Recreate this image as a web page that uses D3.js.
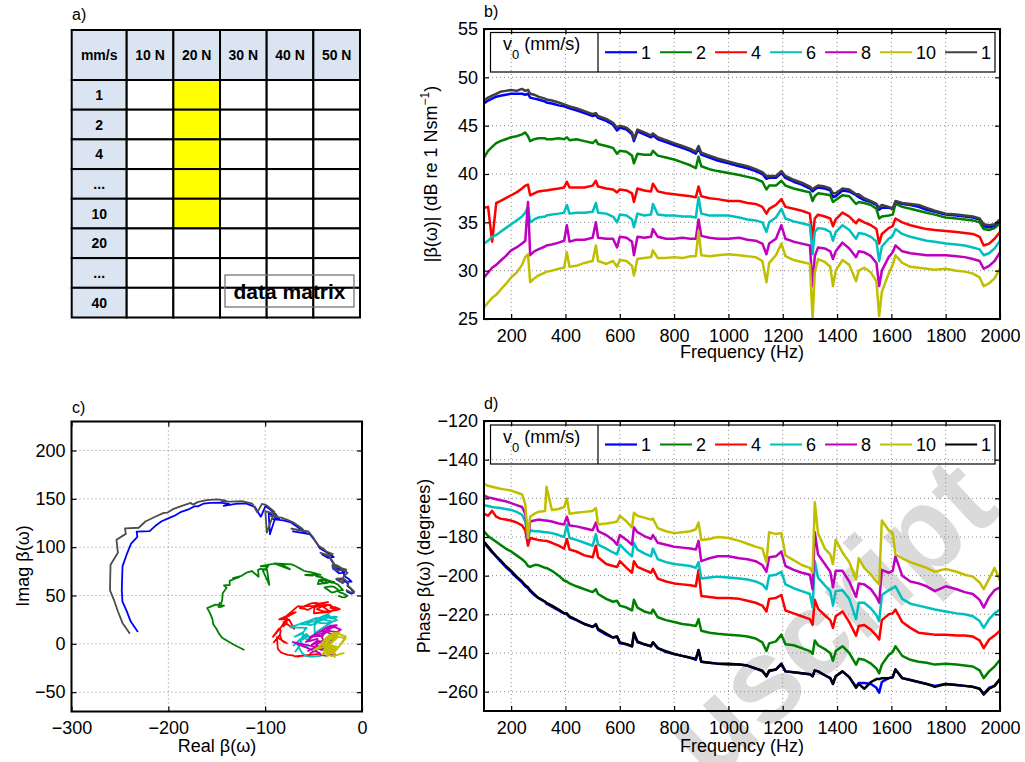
<!DOCTYPE html>
<html><head><meta charset="utf-8">
<script src="https://cdn.jsdelivr.net/npm/d3@7"></script>
<style>body{margin:0;background:#fff}text{font-family:"Liberation Sans",Arial,Helvetica,sans-serif}</style>
</head><body><svg id="c" width="1025" height="762"></svg>
<script>
// ---------- data ----------
const tableCols = ["mm/s","10 N","20 N","30 N","40 N","50 N"];
const tableRows = ["1","2","4","...","10","20","...","40"];
const highlightCol = "20 N";
const highlightRows = [0,1,2,3,4];

const speeds = ["1","2","4","6","8","10","1"];
const colorsB = ["#0000ff","#008000","#ff0000","#00bfbf","#bf00bf","#bfbf00","#404040"];
const colorsD = ["#0000ff","#008000","#ff0000","#00bfbf","#bf00bf","#bfbf00","#000000"];
const colorsC = ["#0000ff","#008000","#ff0000","#00bfbf","#bf00bf","#bfbf00","#4d4d4d"];

const freqTicks = [200,400,600,800,1000,1200,1400,1600,1800,2000];
const magTicks = [25,30,35,40,45,50,55];
const phaseTicks = [-260,-240,-220,-200,-180,-160,-140,-120];
const realTicks = [-300,-200,-100,0];
const imagTicks = [-50,0,50,100,150,200];

const freq = [100,115,130,145,160,180,200,220,240,252,
 262,270,285,300,325,330,350,375,395,405,
 415,440,470,500,512,520,550,575,590,600,
 625,645,652,665,690,715,722,740,770,800,
 830,860,880,890,900,930,960,1000,1040,1070,
 1100,1125,1140,1150,1175,1195,1210,1240,1270,1300,
 1310,1318,1330,1355,1375,1385,1395,1420,1445,1470,
 1480,1500,1525,1545,1555,1565,1590,1605,1615,1640,
 1670,1700,1730,1760,1800,1840,1870,1900,1925,1940,
 1960,1980,2000];

// magnitude |beta| (dB re 1 Nsm^-1)
const magV1 = [47.3,47.6,47.8,48.0,48.1,48.2,48.3,48.3,48.3,48.2,
 48.3,47.9,47.8,47.7,47.5,47.4,47.3,47.1,47.0,46.9,
 46.8,46.6,46.3,46.0,46.1,45.8,45.5,45.1,44.5,44.8,
 44.6,44.1,43.4,44.4,44.1,43.8,44.0,43.6,43.3,43.0,
 42.7,42.4,42.1,42.7,42.0,41.7,41.4,41.1,40.8,40.6,
 40.3,40.0,39.5,39.6,39.6,40.1,39.6,39.2,38.9,38.5,
 38.2,38.4,38.6,38.5,38.3,37.6,37.7,38.3,38.2,37.8,
 37.6,37.3,37.1,36.8,36.3,36.5,36.5,36.4,37.1,36.9,
 36.8,36.6,36.3,36.1,35.8,35.7,35.6,35.5,35.3,34.6,
 34.5,34.6,35.1];
const magV2 = [41.7,42.4,42.8,43.2,43.4,43.6,43.8,43.9,44.1,44.3,
 43.9,43.4,43.6,43.7,43.7,43.6,43.6,43.7,43.6,43.8,
 43.5,43.6,43.4,43.2,43.5,43.1,42.9,42.7,42.1,42.4,
 42.3,41.9,41.1,42.1,42.0,42.0,42.4,41.9,41.7,41.5,
 41.2,40.9,40.6,41.8,40.8,40.5,40.3,40.1,39.9,39.7,
 39.5,39.2,38.4,38.8,38.8,39.3,38.8,38.5,38.3,38.1,
 37.2,37.7,38.0,37.9,37.8,37.1,37.3,37.8,37.7,36.9,
 37.1,37.0,36.8,36.4,35.4,35.6,35.7,35.8,36.9,36.6,
 36.4,36.2,36.0,35.8,35.5,35.4,35.3,35.2,35.0,34.3,
 34.2,34.4,34.9];
const magV4 = [36.5,36.6,33.0,37.0,37.2,37.5,37.8,38.1,38.5,38.8,
 38.9,37.8,38.0,38.2,38.3,38.3,38.4,38.5,38.6,39.2,
 38.6,38.6,38.6,38.8,39.3,38.7,38.5,38.4,38.1,38.4,
 38.3,38.0,37.1,38.5,38.3,38.2,39.0,38.2,38.0,37.9,
 37.8,37.7,37.6,38.7,37.7,37.5,37.4,37.2,37.2,37.0,
 36.9,36.6,35.9,36.4,36.8,37.4,36.6,36.4,36.2,35.9,
 33.3,35.4,35.8,35.6,35.4,34.6,35.3,36.0,35.6,34.9,
 35.3,35.0,34.7,34.3,32.8,33.8,34.4,34.6,35.4,35.0,
 34.7,34.5,34.3,34.2,34.1,34.0,33.9,33.8,33.5,32.6,
 32.8,33.3,34.0];
const magV6 = [32.8,33.1,33.5,33.7,34.0,34.4,34.8,35.2,35.6,36.0,
 36.6,35.0,35.3,35.5,35.6,35.7,35.8,35.9,36.0,36.8,
 35.9,36.0,36.0,36.1,37.0,36.0,35.9,35.6,35.0,35.8,
 35.7,35.3,34.5,35.9,35.7,35.8,36.9,35.8,35.7,35.7,
 35.6,35.6,35.5,37.6,35.9,35.7,35.7,35.7,35.5,35.3,
 35.2,35.0,34.0,35.0,35.5,36.4,35.4,35.1,34.9,34.7,
 31.7,34.0,34.4,34.3,34.0,33.1,34.0,34.7,34.2,33.3,
 33.9,33.8,33.5,33.0,31.0,32.5,33.3,33.6,34.3,33.8,
 33.5,33.3,33.1,33.0,32.8,32.7,32.6,32.4,32.2,31.6,
 31.8,32.3,33.1];
const magV8 = [29.3,29.8,30.3,30.6,31.0,31.5,32.1,32.4,32.8,33.1,
 37.1,31.6,32.0,32.2,32.5,32.6,32.7,32.9,33.1,34.7,
 33.0,33.2,33.2,33.4,35.0,33.4,33.3,33.3,32.4,33.5,
 33.4,33.0,31.6,33.5,33.4,33.5,34.3,33.5,33.3,33.3,
 33.4,33.3,33.3,35.3,33.6,33.4,33.3,33.3,33.4,33.2,
 33.1,32.8,31.7,32.8,33.3,34.7,33.3,33.0,32.8,32.6,
 28.4,31.5,32.4,32.3,32.0,31.2,32.0,32.9,32.3,31.4,
 32.0,31.9,31.5,30.8,28.4,30.0,31.4,31.9,32.6,32.0,
 31.8,31.7,31.6,31.6,31.6,31.5,31.4,31.2,31.0,30.2,
 30.5,31.0,31.9];
const magV10 = [26.2,26.7,27.2,27.5,28.0,28.6,29.3,29.8,30.6,31.4,
 31.7,28.8,29.2,29.5,29.8,29.9,30.0,30.2,30.3,31.9,
 30.4,30.5,30.8,31.0,32.6,31.0,30.7,31.0,30.4,31.1,
 31.0,30.5,29.5,31.2,31.3,31.4,32.1,31.3,31.3,31.4,
 31.3,31.5,31.5,34.1,31.6,31.5,31.6,31.7,31.6,31.5,
 31.4,31.0,28.8,30.8,31.6,32.8,31.5,31.1,30.9,30.7,
 25.0,29.8,31.2,30.9,30.4,28.4,30.0,31.1,30.6,28.9,
 30.0,30.3,29.8,28.9,25.3,27.8,29.7,30.6,31.6,30.8,
 30.4,30.3,30.2,30.1,30.2,30.0,29.9,29.7,29.3,28.4,
 28.7,29.2,30.2];
const magV1b = [47.6,47.9,48.1,48.3,48.5,48.6,48.7,48.6,48.8,48.6,
 48.7,48.3,48.2,48.0,47.8,47.7,47.6,47.4,47.2,47.1,
 47.0,46.8,46.5,46.2,46.3,46.0,45.7,45.3,44.8,45.0,
 44.8,44.3,43.6,44.6,44.3,44.0,44.2,43.8,43.5,43.2,
 42.9,42.6,42.3,42.9,42.2,41.9,41.6,41.3,41.0,40.8,
 40.5,40.2,39.8,39.8,39.8,40.3,39.8,39.4,39.1,38.7,
 38.4,38.6,38.8,38.7,38.5,38.0,38.0,38.5,38.4,37.9,
 37.9,37.5,37.2,36.9,36.5,36.8,36.6,36.4,37.2,37.0,
 36.9,36.8,36.5,36.2,35.9,35.8,35.7,35.6,35.4,34.8,
 34.7,34.8,35.3];

// phase of beta (degrees)
const phV1 = [-183.0,-185.5,-188.0,-190.0,-192.5,-195.5,-198.0,-201.0,-203.5,-205.5,
 -206.5,-208.0,-210.0,-211.5,-213.5,-214.5,-216.0,-218.0,-219.5,-220.0,
 -221.5,-223.0,-225.0,-226.5,-225.0,-228.0,-230.5,-232.0,-231.5,-235.0,
 -235.5,-236.5,-230.0,-234.5,-235.5,-236.5,-234.5,-237.5,-239.5,-240.5,
 -241.5,-242.5,-243.5,-238.5,-244.5,-245.0,-245.5,-246.0,-246.0,-246.5,
 -248.0,-249.5,-252.0,-249.5,-248.5,-246.0,-249.5,-250.0,-250.5,-251.0,
 -252.0,-249.0,-249.5,-251.5,-253.0,-256.0,-252.0,-249.5,-252.5,-257.5,
 -255.5,-255.5,-256.0,-258.0,-260.5,-255.0,-253.0,-252.5,-248.5,-253.0,
 -254.0,-255.0,-256.0,-257.0,-256.0,-256.5,-257.0,-257.5,-258.5,-261.0,
 -258.0,-257.0,-253.5];
const phV2 = [-177.0,-179.5,-181.0,-182.5,-184.0,-186.0,-187.5,-189.5,-191.5,-193.0,
 -195.0,-195.5,-194.5,-194.5,-196.0,-196.0,-197.5,-200.0,-202.5,-203.0,
 -204.0,-205.5,-207.0,-208.5,-207.0,-209.5,-212.0,-213.5,-213.0,-215.5,
 -216.5,-218.0,-212.5,-216.5,-218.5,-219.5,-217.5,-221.5,-223.0,-224.0,
 -225.0,-225.5,-226.0,-222.5,-228.5,-229.5,-230.0,-230.5,-231.0,-231.5,
 -232.5,-234.5,-239.0,-235.0,-234.0,-230.5,-235.5,-236.0,-237.5,-239.0,
 -240.5,-233.5,-236.0,-238.0,-240.0,-244.0,-239.0,-236.5,-240.0,-246.0,
 -243.0,-243.5,-245.5,-248.0,-250.5,-246.0,-241.0,-239.5,-236.5,-241.5,
 -243.5,-244.5,-245.0,-246.0,-245.5,-246.0,-246.5,-247.0,-249.0,-253.0,
 -249.5,-247.0,-243.5];
const phV4 = [-168.0,-169.0,-166.5,-169.5,-170.5,-171.0,-171.5,-172.5,-174.0,-176.5,
 -184.5,-180.5,-181.0,-181.5,-182.0,-182.0,-183.0,-184.5,-186.0,-181.0,
 -186.5,-187.5,-189.5,-190.5,-184.5,-190.5,-194.0,-195.0,-195.5,-192.5,
 -196.0,-198.5,-192.5,-195.5,-197.0,-198.5,-196.5,-201.5,-203.0,-204.0,
 -204.5,-205.0,-205.5,-197.0,-210.5,-211.0,-211.5,-211.5,-212.0,-213.0,
 -214.0,-215.5,-218.5,-212.0,-211.5,-210.0,-218.0,-219.5,-221.0,-222.5,
 -225.5,-212.5,-217.0,-220.5,-223.0,-227.0,-221.0,-218.5,-224.0,-231.0,
 -226.0,-225.5,-228.0,-231.0,-233.0,-223.0,-220.0,-219.5,-217.5,-224.0,
 -227.0,-229.5,-230.0,-230.5,-230.5,-231.0,-231.0,-231.5,-233.5,-237.5,
 -233.0,-231.0,-228.5];
const phV6 = [-163.5,-164.0,-164.5,-164.8,-165.0,-165.5,-166.0,-167.0,-168.5,-172.0,
 -181.0,-176.5,-177.0,-177.0,-177.5,-177.5,-178.0,-179.0,-180.0,-173.5,
 -180.5,-181.5,-183.0,-184.5,-178.5,-184.0,-186.0,-188.0,-189.0,-184.0,
 -187.5,-190.0,-183.0,-186.5,-188.5,-190.0,-186.0,-191.5,-193.0,-194.0,
 -194.5,-195.0,-196.0,-193.0,-201.5,-201.0,-200.5,-201.0,-201.5,-202.0,
 -203.0,-204.5,-207.0,-200.0,-199.5,-198.0,-204.5,-206.5,-208.0,-209.5,
 -216.5,-192.5,-201.0,-205.0,-208.0,-215.5,-208.0,-207.5,-212.0,-222.5,
 -214.0,-214.0,-217.0,-220.5,-223.5,-210.0,-207.5,-206.5,-205.5,-212.0,
 -214.5,-215.5,-216.5,-217.5,-218.5,-219.5,-220.0,-221.0,-223.5,-227.0,
 -222.5,-219.5,-217.5];
const phV8 = [-158.5,-159.5,-160.0,-160.5,-161.0,-161.5,-162.5,-163.5,-164.5,-168.0,
 -181.5,-172.0,-171.5,-171.0,-171.5,-171.5,-172.0,-173.0,-173.5,-169.5,
 -174.0,-174.5,-175.5,-176.5,-172.5,-177.0,-179.0,-181.5,-184.0,-179.0,
 -181.5,-184.0,-175.0,-177.5,-179.5,-181.0,-179.0,-183.0,-184.0,-185.0,
 -185.5,-186.0,-186.5,-182.0,-192.5,-191.0,-190.0,-190.0,-191.0,-191.5,
 -192.5,-194.5,-198.0,-190.5,-190.0,-187.5,-195.0,-197.0,-198.5,-199.5,
 -207.0,-177.5,-189.0,-194.0,-198.0,-206.0,-197.5,-197.5,-203.0,-211.0,
 -204.0,-204.5,-207.0,-211.0,-214.0,-197.0,-198.5,-197.5,-190.0,-200.0,
 -203.0,-204.0,-205.5,-208.0,-205.5,-207.0,-208.5,-209.5,-212.5,-216.5,
 -211.0,-207.5,-206.0];
const phV10 = [-152.5,-153.5,-154.0,-154.5,-155.0,-155.5,-156.0,-157.0,-158.0,-163.0,
 -180.5,-169.5,-168.0,-167.0,-166.5,-154.0,-166.0,-165.5,-164.5,-160.0,
 -168.0,-167.5,-167.0,-166.5,-165.0,-173.5,-173.0,-172.5,-172.0,-169.0,
 -172.0,-175.0,-167.5,-169.0,-170.0,-171.0,-170.5,-175.5,-177.0,-178.0,
 -177.5,-177.0,-176.0,-172.5,-181.5,-181.0,-180.0,-180.5,-182.0,-183.5,
 -185.0,-186.0,-193.0,-177.5,-178.5,-178.0,-189.5,-192.0,-194.5,-196.0,
 -198.5,-162.0,-178.0,-186.0,-189.0,-194.0,-181.5,-188.0,-193.0,-202.0,
 -191.0,-196.0,-199.5,-203.0,-204.5,-171.5,-176.5,-178.0,-189.0,-191.0,
 -193.0,-194.5,-196.0,-198.0,-196.5,-198.0,-199.5,-200.5,-203.5,-207.0,
 -201.5,-196.0,-202.5];
const phV1b = [-182.5,-185.0,-187.5,-190.0,-192.0,-195.0,-197.5,-200.5,-203.0,-205.0,
 -206.0,-207.5,-209.5,-211.5,-213.5,-214.0,-215.5,-217.5,-219.5,-219.5,
 -221.0,-222.8,-225.0,-226.5,-225.5,-227.5,-230.0,-232.0,-231.5,-234.5,
 -235.5,-236.5,-229.5,-234.0,-235.5,-236.5,-234.5,-237.5,-239.0,-240.5,
 -241.5,-242.5,-243.0,-238.5,-244.5,-245.0,-245.5,-245.5,-246.0,-246.5,
 -248.0,-249.0,-252.0,-249.0,-248.5,-245.5,-249.5,-250.0,-250.5,-251.0,
 -252.0,-249.0,-249.5,-251.5,-253.0,-256.0,-252.0,-249.5,-252.5,-258.0,
 -256.0,-258.5,-255.0,-253.5,-253.5,-253.0,-253.0,-252.5,-248.5,-253.0,
 -254.0,-255.0,-256.0,-257.5,-256.0,-256.5,-257.0,-257.5,-258.5,-261.5,
 -258.5,-257.0,-253.5];

const magSeries = [magV1,magV2,magV4,magV6,magV8,magV10,magV1b];
const phaseSeries = [phV1,phV2,phV4,phV6,phV8,phV10,phV1b];

// ---------- drawing ----------
const svg = d3.select("#c");
const FS = 18;

// watermark (behind everything)
svg.append("text")
  .attr("transform","translate(1003,512) rotate(-43)")
  .attr("text-anchor","end").attr("font-size",120).attr("font-weight","bold")
  .attr("fill","#dadada").text("uscript");

const xF = d3.scaleLinear().domain([100,2000]).range([484,1000]);
const yMag = d3.scaleLinear().domain([25,55]).range([319,29]);
const yPh = d3.scaleLinear().domain([-270,-120]).range([711,421]);
const xRe = d3.scaleLinear().domain([-300,0]).range([71.5,362]);
const yIm = d3.scaleLinear().domain([-70,230]).range([711.5,421.5]);
const fmt = d3.format("d");

let clipN = 0;
function panel(x, y, xt, yt, drawLines) {
  const [xa,xb] = x.range(), [ya,yb] = y.range();
  const g = svg.append("g");
  g.selectAll(null).data(xt.filter(t => x(t) > xa+1 && x(t) < xb-1)).join("line")
    .attr("x1",d=>x(d)).attr("x2",d=>x(d)).attr("y1",ya).attr("y2",yb)
    .attr("stroke","#8a8a8a").attr("stroke-width",1).attr("stroke-dasharray","1,3");
  g.selectAll(null).data(yt.filter(t => y(t) < ya-1 && y(t) > yb+1)).join("line")
    .attr("y1",d=>y(d)).attr("y2",d=>y(d)).attr("x1",xa).attr("x2",xb)
    .attr("stroke","#8a8a8a").attr("stroke-width",1).attr("stroke-dasharray","1,3");
  const id = "clip" + (clipN++);
  svg.append("clipPath").attr("id",id).append("rect")
    .attr("x",xa).attr("y",yb).attr("width",xb-xa).attr("height",ya-yb);
  const lg = svg.append("g").attr("clip-path",`url(#${id})`);
  drawLines(lg);
  const ax = svg.append("g");
  ax.append("g").attr("transform",`translate(0,${ya})`)
    .call(d3.axisBottom(x).tickValues(xt).tickFormat(fmt).tickSizeInner(-5).tickSizeOuter(0).tickPadding(10));
  ax.append("g").attr("transform",`translate(${xa},0)`)
    .call(d3.axisLeft(y).tickValues(yt).tickFormat(fmt).tickSizeInner(-5).tickSizeOuter(0).tickPadding(6));
  ax.append("g").attr("transform",`translate(0,${yb})`)
    .call(d3.axisTop(x).tickValues(xt).tickSizeInner(-5).tickSizeOuter(0).tickFormat(""));
  ax.append("g").attr("transform",`translate(${xb},0)`)
    .call(d3.axisRight(y).tickValues(yt).tickSizeInner(-5).tickSizeOuter(0).tickFormat(""));
  ax.selectAll(".domain").remove();
  ax.selectAll(".tick line").attr("stroke","#000").attr("stroke-width",1.2);
  ax.selectAll(".tick text").attr("font-size",FS).attr("fill","#000")
    .attr("font-family","'Liberation Sans',Arial,sans-serif");
  ax.append("rect").attr("x",xa).attr("y",yb).attr("width",xb-xa).attr("height",ya-yb)
    .attr("fill","none").attr("stroke","#000").attr("stroke-width",2);
}

function freqLines(yScale, data, colors, width) {
  return g => {
    data.forEach((vals, i) => {
      const pts = freq.map((f,k) => [f, vals[k]]);
      g.append("path").datum(pts)
        .attr("d", d3.line().x(d=>xF(d[0])).y(d=>yScale(d[1])))
        .attr("fill","none").attr("stroke",colors[i]).attr("stroke-width",width)
        .attr("stroke-linejoin","round");
    });
  };
}

panel(xF, yMag, freqTicks, magTicks, freqLines(yMag, magSeries, colorsB, 2.5));
panel(xF, yPh, freqTicks, phaseTicks, freqLines(yPh, phaseSeries, colorsD, 2.5));
// panel c : complex plane, built from the magnitude and phase readings above
panel(xRe, yIm, realTicks, imagTicks, g => {
  magSeries.forEach((mags, i) => {
    const phs = phaseSeries[i];
    const pts = mags.map((m,k) => {
      const a = Math.pow(10, m/20), p = phs[k]*Math.PI/180;
      return [a*Math.cos(p), a*Math.sin(p)];
    });
    g.append("path").datum(pts)
      .attr("d", d3.line().x(d=>xRe(d[0])).y(d=>yIm(d[1])))
      .attr("fill","none").attr("stroke",colorsC[i]).attr("stroke-width",1.8)
      .attr("stroke-linejoin","round");
  });
});

function legend(top, bottom, colors) {
  const g = svg.append("g");
  const cy = (top+bottom)/2;
  g.append("rect").attr("x",490.5).attr("y",top).attr("width",504.5).attr("height",bottom-top)
    .attr("fill","none").attr("stroke","#000").attr("stroke-width",1.2);
  g.append("line").attr("x1",598).attr("x2",598).attr("y1",top).attr("y2",bottom)
    .attr("stroke","#000").attr("stroke-width",1.2);
  const t = g.append("text").attr("x",503).attr("y",cy-2).attr("font-size",FS);
  t.append("tspan").text("v");
  t.append("tspan").attr("font-size",13).attr("dy",9).text("0");
  t.append("tspan").attr("dy",-9).text(" (mm/s)");
  let x = 605;
  speeds.forEach((s,i) => {
    g.append("line").attr("x1",x).attr("x2",x+32).attr("y1",cy).attr("y2",cy)
      .attr("stroke",colors[i]).attr("stroke-width",2.2);
    const tx = g.append("text").attr("x",x+36).attr("y",cy+6.5).attr("font-size",FS).text(s);
    x = x + 36 + tx.node().getComputedTextLength() + 9;
  });
}
legend(32.5, 72, colorsB);
legend(425, 464, colorsD);

function label(txt, x, y, rot) {
  return svg.append("text").attr("transform",`translate(${x},${y}) rotate(${rot||0})`)
    .attr("text-anchor","middle").attr("font-size",FS).text(txt);
}
label("Frequency (Hz)", 742, 358);
label("Frequency (Hz)", 742, 752);
label("Real β(ω)", 217, 752);
label("Imag β(ω)", 29, 566, -90);
label("Phase β(ω) (degrees)", 430, 566, -90);
const ylb = svg.append("text").attr("transform","translate(437,174) rotate(-90)")
  .attr("text-anchor","middle").attr("font-size",FS);
ylb.append("tspan").text("|β(ω)|  (dB re 1 Nsm");
ylb.append("tspan").attr("font-size",12).attr("dy",-8).text("−1");
ylb.append("tspan").attr("dy",8).text(")");

[["a)",72,20],["b)",484,17],["c)",72,413],["d)",484,409]].forEach(d => {
  svg.append("text").attr("x",d[1]).attr("y",d[2]).attr("font-size",16).text(d[0]);
});

// ---------- table (panel a) ----------
const tg = svg.append("g");
const xCol = d3.scaleBand().domain(tableCols.slice(1)).range([126.7,360]);
const yRow = d3.scaleBand().domain(d3.range(tableRows.length)).range([80,317.5]);
const hdrFill = "#dbe5f1";
tg.append("rect").attr("x",71.7).attr("y",30).attr("width",55).attr("height",50)
  .attr("fill",hdrFill).attr("stroke","#000").attr("stroke-width",2);
tg.append("text").attr("x",99.2).attr("y",60).attr("text-anchor","middle")
  .attr("font-size",14).attr("font-weight","bold").text(tableCols[0]);
tableCols.slice(1).forEach(c => {
  tg.append("rect").attr("x",xCol(c)).attr("y",30).attr("width",xCol.bandwidth()).attr("height",50)
    .attr("fill",hdrFill).attr("stroke","#000").attr("stroke-width",2);
  tg.append("text").attr("x",xCol(c)+xCol.bandwidth()/2).attr("y",60).attr("text-anchor","middle")
    .attr("font-size",14).attr("font-weight","bold").text(c);
});
tableRows.forEach((r,i) => {
  tg.append("rect").attr("x",71.7).attr("y",yRow(i)).attr("width",55).attr("height",yRow.bandwidth())
    .attr("fill",hdrFill).attr("stroke","#000").attr("stroke-width",2);
  tg.append("text").attr("x",99.2).attr("y",yRow(i)+yRow.bandwidth()/2+5).attr("text-anchor","middle")
    .attr("font-size",14).attr("font-weight","bold").text(r);
  tableCols.slice(1).forEach(c => {
    const hi = c === highlightCol && highlightRows.includes(i);
    tg.append("rect").attr("x",xCol(c)).attr("y",yRow(i)).attr("width",xCol.bandwidth()).attr("height",yRow.bandwidth())
      .attr("fill", hi ? "#ffff00" : "#fff").attr("stroke","#000").attr("stroke-width",2);
  });
});
tg.append("rect").attr("x",225).attr("y",275).attr("width",129).attr("height",32)
  .attr("fill","none").attr("stroke","#777").attr("stroke-width",1.3);
tg.append("text").attr("x",289.5).attr("y",299).attr("text-anchor","middle")
  .attr("font-size",21).attr("font-weight","bold").text("data matrix");
</script></body></html>
